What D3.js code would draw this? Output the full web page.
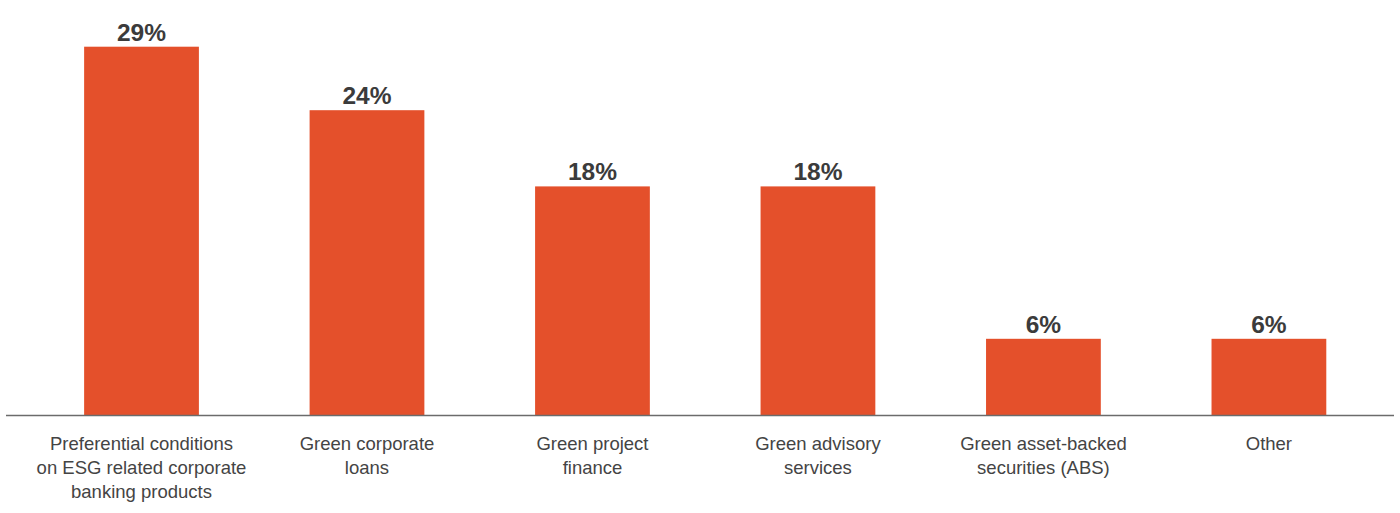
<!DOCTYPE html>
<html>
<head>
<meta charset="utf-8">
<script src="https://cdn.jsdelivr.net/npm/d3@7"></script>
<style>
  html, body { margin: 0; padding: 0; background: #fff; }
  svg { display: block; }
</style>
</head>
<body>
<svg id="chart" width="1400" height="513"></svg>
<script>
// Share of respondents by product type
const categories = [
  ["Preferential conditions", "on ESG related corporate", "banking products"],
  ["Green corporate", "loans"],
  ["Green project", "finance"],
  ["Green advisory", "services"],
  ["Green asset-backed", "securities (ABS)"],
  ["Other"]
];
const values = [29, 24, 18, 18, 6, 6];
const valueLabels = ["29%", "24%", "18%", "18%", "6%", "6%"];

const width = 1400, height = 513;
const baseline = 415;
const barColor = "#e4502b";

const svg = d3.select("#chart");

const keys = categories.map((c, i) => i);

const x = d3.scaleBand()
  .domain(keys)
  .range([0, width])
  .paddingInner(0.491)
  .paddingOuter(0.35)
  .align(0.533);

const y = d3.scaleLinear()
  .domain([0, 30])
  .range([baseline, baseline - 30 * 12.7]);

// bars
svg.append("g")
  .selectAll("rect")
  .data(values)
  .join("rect")
  .attr("x", (d, i) => x(i))
  .attr("width", x.bandwidth())
  .attr("y", d => y(d))
  .attr("height", d => y(0) - y(d))
  .attr("fill", barColor);

// value labels
svg.append("g")
  .selectAll("text")
  .data(values)
  .join("text")
  .attr("x", (d, i) => x(i) + x.bandwidth() / 2)
  .attr("y", d => y(d) - 6)
  .attr("text-anchor", "middle")
  .attr("font-family", "'Liberation Sans', Arial, Helvetica, sans-serif")
  .attr("font-weight", "bold")
  .attr("font-size", 24.5)
  .attr("fill", "#3b3b3b")
  .text((d, i) => valueLabels[i]);

// baseline
svg.append("line")
  .attr("x1", 6)
  .attr("x2", 1394)
  .attr("y1", baseline + 0.5)
  .attr("y2", baseline + 0.5)
  .attr("stroke", "#6b6b6b")
  .attr("stroke-width", 1.5);

// category labels
const catG = svg.append("g")
  .selectAll("text")
  .data(categories)
  .join("text")
  .attr("x", (d, i) => x(i) + x.bandwidth() / 2)
  .attr("y", baseline + 35)
  .attr("text-anchor", "middle")
  .attr("font-family", "'Liberation Sans', Arial, Helvetica, sans-serif")
  .attr("font-size", 18.5)
  .attr("fill", "#444");

catG.selectAll("tspan")
  .data(d => d)
  .join("tspan")
  .attr("x", function() { return this.parentNode.getAttribute("x"); })
  .attr("dy", (d, j) => j === 0 ? 0 : 24)
  .text(d => d);
</script>
</body>
</html>
